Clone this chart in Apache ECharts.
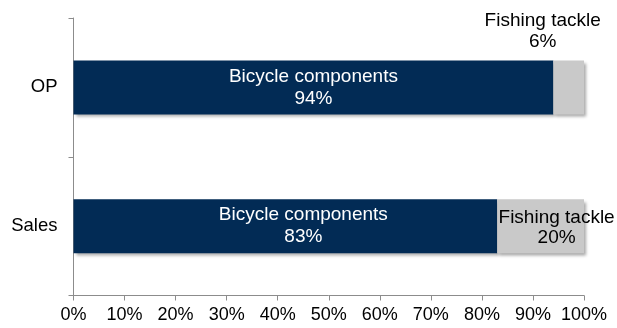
<!DOCTYPE html>
<html>
<head>
<meta charset="utf-8">
<script src="https://cdn.jsdelivr.net/npm/echarts@6/dist/echarts.min.js"></script>
<style>
  html, body { margin: 0; padding: 0; background: #fff; }
  #chart { width: 617px; height: 328px; }
</style>
</head>
<body>
<div id="chart"></div>
<script>
// Segment share by metric (percent)
const categories = ['Sales', 'OP'];
const bicycleName = 'Bicycle components';
const fishingName = 'Fishing tackle';
const bicycleValues = [83, 94];
const fishingValues = [20, 6];
const tickLabels = ['0%', '10%', '20%', '30%', '40%', '50%', '60%', '70%', '80%', '90%', '100%'];

const FONT = '"Liberation Sans", Arial, sans-serif';
const chart = echarts.init(document.getElementById('chart'), null, { renderer: 'canvas' });

const barShadow = {
  shadowColor: 'rgba(0,0,0,0.35)',
  shadowBlur: 3,
  shadowOffsetX: 2,
  shadowOffsetY: 3
};

// Per-bar label placement for each segment
const bicycleLabelPlacement = [
  { offset: [18, 0] },
  { offset: [0, 0] }
];
const fishingLabelPlacement = [
  { position: 'inside', offset: [16, 2], lineHeight: 20 },
  { position: 'top', distance: 8, offset: [-26, 0], lineHeight: 21 }
];

chart.setOption({
  animation: false,
  grid: { left: 73.5, right: 33, top: 18, bottom: 32.5, containLabel: false },
  xAxis: {
    type: 'value',
    min: 0,
    max: 100,
    interval: 10,
    axisLine: { show: true, lineStyle: { color: '#8c8c8c', width: 1 } },
    axisTick: { show: true, length: 5, lineStyle: { color: '#8c8c8c' } },
    splitLine: { show: false },
    axisLabel: {
      color: '#000',
      fontFamily: FONT,
      fontSize: 18,
      margin: 11,
      formatter: (v) => tickLabels[Math.round(v / 10)]
    }
  },
  yAxis: {
    type: 'category',
    data: categories,
    axisLine: { show: true, lineStyle: { color: '#8c8c8c', width: 1 } },
    axisTick: { show: true, length: 5, lineStyle: { color: '#8c8c8c' } },
    axisLabel: { color: '#000', fontFamily: FONT, fontSize: 18.5, margin: 16 }
  },
  series: [
    {
      name: bicycleName,
      type: 'bar',
      stack: 'share',
      barWidth: 54,
      data: bicycleValues.map((v, i) => ({ value: v, label: bicycleLabelPlacement[i] })),
      itemStyle: Object.assign({ color: '#022b55' }, barShadow),
      label: {
        show: true,
        position: 'inside',
        color: '#fff',
        fontFamily: FONT,
        fontSize: 19,
        lineHeight: 22,
        formatter: (p) => bicycleName + '\n' + p.value + '%'
      }
    },
    {
      name: fishingName,
      type: 'bar',
      stack: 'share',
      barWidth: 54,
      data: fishingValues.map((v, i) => ({ value: v, label: fishingLabelPlacement[i] })),
      itemStyle: Object.assign({ color: '#c9c9c9' }, barShadow),
      label: {
        show: true,
        color: '#000',
        fontFamily: FONT,
        fontSize: 19,
        formatter: (p) => fishingName + '\n' + p.value + '%'
      }
    }
  ]
});
</script>
</body>
</html>
